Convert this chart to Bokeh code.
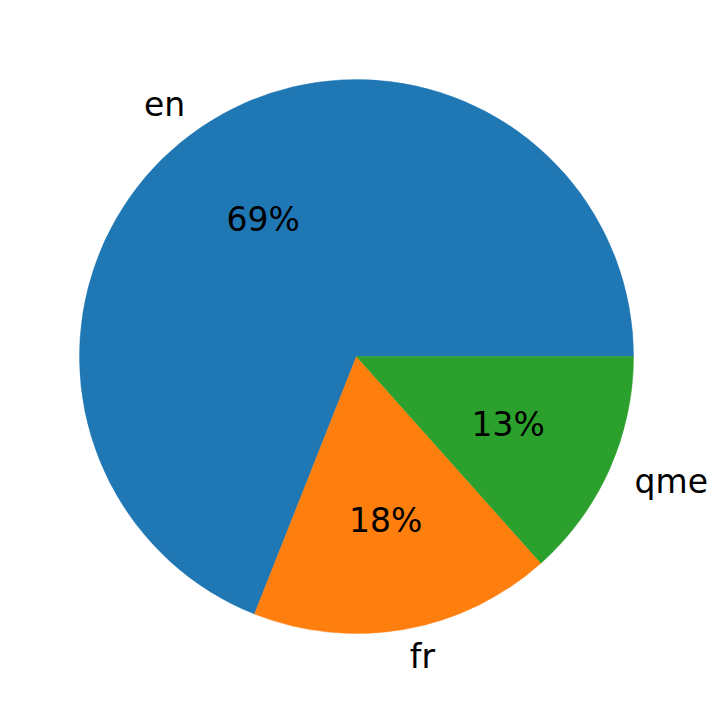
import math
from bokeh.plotting import figure
from bokeh.models import Range1d, ColumnDataSource
from bokeh.core.properties import value
from bokeh.embed import file_html
from bokeh.resources import INLINE

labels = ["en", "fr", "qme"]
shares = [69.0, 17.6, 13.4]
colors = ["#1f77b4", "#ff7f0e", "#2ca02c"]

# layout: 1 data unit = 277 px, pie centered at canvas pixel (356, 356)
R = 277.0
cx_pix, cy_pix = 356.0, 356.0
W, H = 721, 713
x0 = (0 - cx_pix) / R
x1 = (W - cx_pix) / R
y1 = (cy_pix - 0) / R
y0 = (cy_pix - H) / R

p = figure(width=W, height=H, output_backend="svg", toolbar_location=None,
           x_range=Range1d(x0, x1), y_range=Range1d(y0, y1),
           min_border=0)
p.axis.visible = False
p.grid.visible = False
p.outline_line_color = None
p.background_fill_color = "white"
p.border_fill_color = "white"

total = sum(shares)
starts, ends = [], []
acc = 0.0
for s in shares:
    a0 = 2 * math.pi * acc / total
    acc += s
    a1 = 2 * math.pi * acc / total
    starts.append(a0)
    ends.append(a1)

src = ColumnDataSource(dict(start=starts, end=ends, color=colors))
p.wedge(x=0, y=0, radius=1.0, start_angle="start", end_angle="end",
        fill_color="color", line_color="color", line_width=0.5, source=src)

lx, ly, lal, px, py, pt = [], [], [], [], [], []
for lab, s, a0, a1 in zip(labels, shares, starts, ends):
    m = (a0 + a1) / 2
    lx.append(1.1 * math.cos(m))
    ly.append(1.1 * math.sin(m))
    lal.append("left" if math.cos(m) > 0 else "right")
    px.append(0.6 * math.cos(m))
    py.append(0.6 * math.sin(m))
    pt.append("%d%%" % round(100 * s / total))

lsrc = ColumnDataSource(dict(x=lx, y=ly, t=labels, a=lal))
p.text(x="x", y="y", text="t", text_align="a", text_baseline="middle",
       text_font=value("DejaVu Sans"), text_font_size="33px",
       text_color="black", source=lsrc)
psrc = ColumnDataSource(dict(x=px, y=py, t=pt))
p.text(x="x", y="y", text="t", text_align="center", text_baseline="middle",
       text_font=value("DejaVu Sans"), text_font_size="33px",
       text_color="black", source=psrc)

open("out.html", "w").write(file_html(p, INLINE))
